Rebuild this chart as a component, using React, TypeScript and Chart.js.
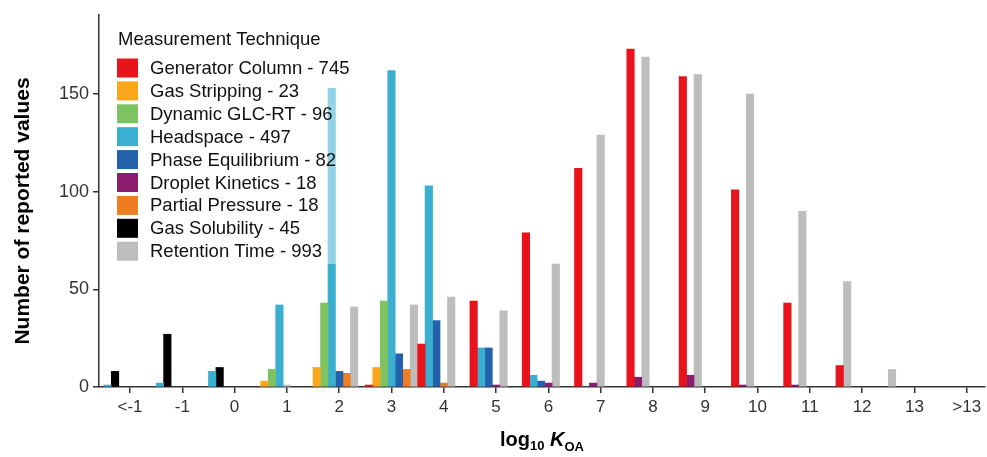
import React, { useEffect, useRef } from "react";
import { Chart, registerables } from "chart.js";

Chart.register(...registerables);

const categories = ["<-1", "-1", "0", "1", "2", "3", "4", "5", "6", "7", "8", "9", "10", "11", "12", "13", ">13"];

const seriesNames = [
  "Generator Column",
  "Gas Stripping",
  "Dynamic GLC-RT",
  "Headspace",
  "Phase Equilibrium",
  "Droplet Kinetics",
  "Partial Pressure",
  "Gas Solubility",
  "Retention Time",
];

const seriesColors = ["#E8131B", "#FAA61A", "#7DC361", "#3AAFD0", "#2361AC", "#8B1C6E", "#EE7D22", "#000000", "#BDBDBD"];

type V = number | null;
const generatorColumn: V[] = [null, null, null, null, null, 1, 22, 44, 79, 112, 173, 159, 101, 43, 11, null, null];
const gasStripping: V[] = [null, null, null, 3, 10, 10, null, null, null, null, null, null, null, null, null, null, null];
const dynamicGlcRt: V[] = [null, null, null, 9, 43, 44, null, null, null, null, null, null, null, null, null, null, null];
const headspace: V[] = [1, 2, 8, 42, 153, 162, 103, 20, 6, null, null, null, null, null, null, null, null];
const phaseEquilibrium: V[] = [null, null, null, null, 8, 17, 34, 20, 3, 0, null, null, null, null, null, null, null];
const dropletKinetics: V[] = [null, null, null, null, null, null, null, 1, 2, 2, 5, 6, 1, 1, null, null, null];
const partialPressure: V[] = [null, null, null, null, 7, 9, 2, null, null, null, null, null, null, null, null, null, null];
const gasSolubility: V[] = [8, 27, 10, null, null, null, null, null, null, null, null, null, null, null, null, null, null];
const retentionTime: V[] = [null, null, null, 1, 41, 42, 46, 39, 63, 129, 169, 160, 150, 90, 54, 9, null];

const seriesValues: V[][] = [
  generatorColumn,
  gasStripping,
  dynamicGlcRt,
  headspace,
  phaseEquilibrium,
  dropletKinetics,
  partialPressure,
  gasSolubility,
  retentionTime,
];

const yTickValues = [0, 50, 100, 150];

const FONT = '"Liberation Sans", Arial, Helvetica, sans-serif';

// dodge (preserve single width, bars packed from the left of each category slot)
const maxPresent = Math.max(
  ...categories.map((_, i) => seriesValues.filter((vals) => vals[i] !== null).length)
);
const slotX: number[][] = seriesValues.map(() => []);
categories.forEach((_, i) => {
  let k = 0;
  seriesValues.forEach((vals, s) => {
    if (vals[i] !== null) {
      slotX[s][i] = i - 0.5 + (k + 0.5) / maxPresent;
      k++;
    }
  });
});

const totals = seriesValues.map((vals) => vals.reduce((a: number, v) => a + (v ?? 0), 0));

const legendPlugin = {
  id: "techniqueLegend",
  afterDatasetsDraw(chart: any) {
    const ctx: CanvasRenderingContext2D = chart.ctx;
    const left = chart.chartArea.left;
    const top = chart.chartArea.top;
    ctx.save();
    ctx.fillStyle = "rgba(255,255,255,0.45)";
    ctx.fillRect(left + 7, top + 3, 256, 246);
    ctx.fillStyle = "#111";
    ctx.font = `18.5px ${FONT}`;
    ctx.textBaseline = "alphabetic";
    ctx.textAlign = "left";
    ctx.fillText("Measurement Technique", left + 19, top + 30);
    const rowStart = top + 53;
    const pitch = 22.9;
    seriesNames.forEach((name, s) => {
      const cy = rowStart + s * pitch;
      ctx.fillStyle = seriesColors[s];
      ctx.fillRect(left + 18, cy - 9.5, 21, 19);
      ctx.fillStyle = "#111";
      ctx.textBaseline = "middle";
      ctx.fillText(`${name} - ${totals[s]}`, left + 51, cy + 1);
    });
    ctx.restore();
  },
};

const titlesPlugin = {
  id: "axisTitles",
  afterDraw(chart: any) {
    const ctx: CanvasRenderingContext2D = chart.ctx;
    const area = chart.chartArea;
    ctx.save();
    ctx.fillStyle = "#000";
    // y title
    ctx.save();
    ctx.translate(23, (area.top + area.bottom) / 2 + 10);
    ctx.rotate(-Math.PI / 2);
    ctx.font = `bold 21px ${FONT}`;
    ctx.textAlign = "center";
    ctx.textBaseline = "middle";
    ctx.fillText("Number of reported values", 0, 0);
    ctx.restore();
    // x title: log10 K_OA
    const parts = [
      { t: "log", f: `bold 20px ${FONT}`, dy: 0 },
      { t: "10", f: `bold 13px ${FONT}`, dy: 4 },
      { t: " ", f: `bold 20px ${FONT}`, dy: 0 },
      { t: "K", f: `italic bold 20px ${FONT}`, dy: 0 },
      { t: "OA", f: `bold 13px ${FONT}`, dy: 5 },
    ];
    let total = 0;
    parts.forEach((p) => {
      ctx.font = p.f;
      total += ctx.measureText(p.t).width;
    });
    let x = (area.left + area.right) / 2 - total / 2;
    const baseY = area.bottom + 59;
    ctx.textAlign = "left";
    ctx.textBaseline = "alphabetic";
    parts.forEach((p) => {
      ctx.font = p.f;
      ctx.fillText(p.t, x, baseY + p.dy);
      x += ctx.measureText(p.t).width;
    });
    ctx.restore();
  },
};

export default function App() {
  const canvasRef = useRef<HTMLCanvasElement | null>(null);

  useEffect(() => {
    if (!canvasRef.current) return;
    const datasets = seriesValues.map((vals, s) => ({
      type: "bar" as const,
      label: seriesNames[s],
      data: vals
        .map((v, i) => (v === null ? null : { x: slotX[s][i], y: v }))
        .filter((d) => d !== null),
      backgroundColor: seriesColors[s],
      borderWidth: 0,
      grouped: false,
      barPercentage: 1,
      categoryPercentage: 1,
    }));

    const axisColor = "#333";
    const chart = new Chart(canvasRef.current, {
      type: "bar",
      data: { datasets: datasets as any },
      options: {
        responsive: false,
        maintainAspectRatio: false,
        animation: false,
        devicePixelRatio: 1,
        layout: { padding: { top: 15, right: 2, left: 0, bottom: 0 } },
        plugins: {
          legend: { display: false },
          tooltip: { enabled: false },
        },
        scales: {
          x: {
            type: "linear",
            min: -0.593,
            max: 16.35,
            offset: false,
            afterBuildTicks: (axis: any) => {
              axis.ticks = categories.map((_, i) => ({ value: i }));
            },
            afterFit: (axis: any) => {
              axis.height = 70;
            },
            ticks: {
              autoSkip: false,
              maxRotation: 0,
              padding: 4,
              color: "#333",
              font: { family: FONT, size: 17 },
              callback: (_v: any, index: number) => categories[index],
            },
            grid: {
              offset: false,
              drawOnChartArea: false,
              drawTicks: true,
              tickLength: 6,
              color: axisColor,
              lineWidth: 1.5,
            },
            border: { display: true, color: axisColor, width: 1.5 },
          },
          y: {
            type: "linear",
            min: 0,
            max: 190.5,
            afterBuildTicks: (axis: any) => {
              axis.ticks = yTickValues.map((v) => ({ value: v }));
            },
            afterFit: (axis: any) => {
              axis.width = 99;
            },
            ticks: {
              padding: 4,
              color: "#333",
              font: { family: FONT, size: 18 },
            },
            grid: {
              drawOnChartArea: false,
              drawTicks: true,
              tickLength: 6,
              color: axisColor,
              lineWidth: 1.5,
            },
            border: { display: true, color: axisColor, width: 1.5 },
          },
        },
      } as any,
      plugins: [legendPlugin, titlesPlugin],
    });
    return () => chart.destroy();
  }, []);

  return (
    <div style={{ position: "absolute", left: 0, top: 0, width: 987, height: 457, background: "#fff" }}>
      <canvas ref={canvasRef} width={987} height={457} style={{ display: "block" }} />
    </div>
  );
}
